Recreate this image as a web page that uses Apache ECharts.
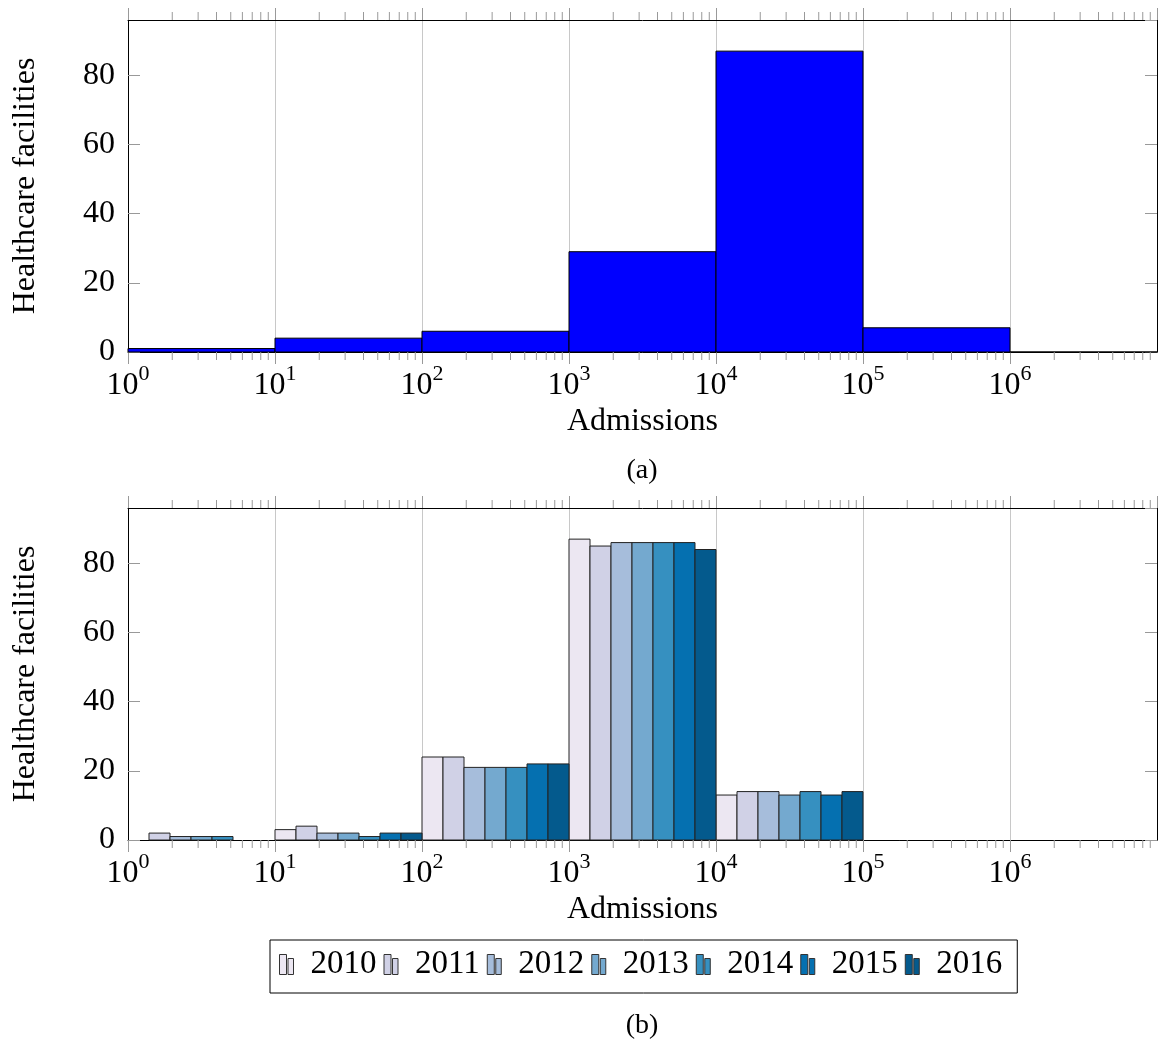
<!DOCTYPE html>
<html>
<head>
<meta charset="utf-8">
<script src="https://cdn.jsdelivr.net/npm/echarts@6/dist/echarts.min.js"></script>
<style>
html,body{margin:0;padding:0;background:#fff;}
#chart{width:1160px;height:1043px;}
</style>
</head>
<body>
<div id="chart"></div>
<script>
// ---------- data ----------
const binEdges = [1, 10, 100, 1000, 10000, 100000, 1000000, 10000000];
const topCounts = [1, 4, 6, 29, 87, 7, 0];
const years = ['2010', '2011', '2012', '2013', '2014', '2015', '2016'];
const counts2010 = [0, 3, 24, 87, 13, 0, 0];
const counts2011 = [2, 4, 24, 85, 14, 0, 0];
const counts2012 = [1, 2, 21, 86, 14, 0, 0];
const counts2013 = [1, 2, 21, 86, 13, 0, 0];
const counts2014 = [1, 1, 21, 86, 14, 0, 0];
const counts2015 = [0, 2, 22, 86, 13, 0, 0];
const counts2016 = [0, 2, 22, 84, 14, 0, 0];
const yearCounts = [counts2010, counts2011, counts2012, counts2013, counts2014, counts2015, counts2016];
const minorMultipliers = [2, 3, 4, 5, 6, 7, 8, 9];
const yTicks = [0, 20, 40, 60, 80];

// ---------- styles ----------
const FONT = "'Liberation Serif', 'Times New Roman', serif";
const yearColors = ['#ece7f2', '#d0d1e6', '#a6bddb', '#74a9cf', '#3690c0', '#0570b0', '#045a8d'];
const X_MIN = 1, X_MAX = 1e7, Y_MAX = 96;
const TICK_COLOR = '#999';

const minorTickData = [];
for (let d = 0; d < binEdges.length - 1; d++) {
  minorMultipliers.forEach(m => minorTickData.push([m * binEdges[d], 0]));
}

function xLabel(v) {
  const n = Math.round(Math.log10(v));
  return '{b|10}{s|' + n + '}';
}

function makeGrid(top) {
  return { left: 128, width: 1029, top: top, height: 332, containLabel: false, outerBoundsMode: 'none' };
}

function bottomX(gridIndex) {
  return {
    type: 'log', logBase: 10, gridIndex: gridIndex, position: 'bottom',
    min: X_MIN, max: X_MAX, interval: 1, splitNumber: 7,
    name: 'Admissions', nameLocation: 'middle', nameGap: 54, nameMoveOverlap: false,
    nameTextStyle: { fontFamily: FONT, fontSize: 32, color: '#000' },
    axisLine: { show: true, onZero: false, lineStyle: { color: '#000', width: 1 } },
    axisTick: { show: true, inside: false, length: 12, lineStyle: { color: TICK_COLOR } },
    minorTick: { show: false },
    splitLine: { show: true, lineStyle: { color: '#c8c8c8', width: 1 } },
    axisLabel: {
      show: true, margin: 11, showMaxLabel: false, showMinLabel: true,
      formatter: xLabel,
      rich: {
        b: { fontFamily: FONT, fontSize: 32, color: '#000', lineHeight: 46 },
        s: { fontFamily: FONT, fontSize: 22, color: '#000', lineHeight: 22, verticalAlign: 'top' }
      }
    }
  };
}
function topX(gridIndex) {
  return {
    type: 'log', logBase: 10, gridIndex: gridIndex, position: 'top',
    min: X_MIN, max: X_MAX, interval: 1, splitNumber: 7,
    axisLine: { show: true, onZero: false, lineStyle: { color: '#000', width: 1 } },
    axisTick: { show: true, inside: false, length: 12, lineStyle: { color: TICK_COLOR } },
    splitLine: { show: false },
    axisLabel: { show: false }
  };
}
function leftY(gridIndex) {
  return {
    type: 'value', gridIndex: gridIndex, position: 'left',
    min: 0, max: Y_MAX, interval: 20,
    name: 'Healthcare facilities', nameLocation: 'middle', nameRotate: 90, nameGap: 86, nameMoveOverlap: false,
    nameTextStyle: { fontFamily: FONT, fontSize: 32, color: '#000' },
    axisLine: { show: true, onZero: false, lineStyle: { color: '#000', width: 1 } },
    axisTick: { show: true, inside: true, length: 12, lineStyle: { color: TICK_COLOR } },
    splitLine: { show: false },
    axisLabel: {
      show: true, margin: 13, showMaxLabel: false,
      fontFamily: FONT, fontSize: 32, color: '#000',
      formatter: v => (yTicks.indexOf(v) >= 0 ? String(v) : '')
    }
  };
}
function rightY(gridIndex) {
  return {
    type: 'value', gridIndex: gridIndex, position: 'right',
    min: 0, max: Y_MAX, interval: 20,
    axisLine: { show: true, onZero: false, lineStyle: { color: '#000', width: 1 } },
    axisTick: { show: true, inside: true, length: 12, lineStyle: { color: TICK_COLOR } },
    splitLine: { show: false },
    axisLabel: { show: false }
  };
}

function minorTickSeries(xi, yi) {
  return {
    type: 'custom', xAxisIndex: xi, yAxisIndex: yi, silent: true, clip: false, z: 5,
    data: minorTickData, encode: { x: 0, y: 1 },
    renderItem: function (params, api) {
      const b = api.coord([api.value(0), 0]);
      const t = api.coord([api.value(0), Y_MAX]);
      const st = { stroke: TICK_COLOR, lineWidth: 1 };
      return {
        type: 'group', children: [
          { type: 'line', shape: { x1: b[0], y1: b[1], x2: b[0], y2: b[1] + 8 }, style: st },
          { type: 'line', shape: { x1: t[0], y1: t[1], x2: t[0], y2: t[1] - 8 }, style: st }
        ]
      };
    }
  };
}

const topData = topCounts.map((c, i) => [binEdges[i], binEdges[i + 1], c]);

const series = [
  {
    name: 'all', type: 'custom', xAxisIndex: 0, yAxisIndex: 0, z: 3,
    data: topData, encode: { x: [0, 1], y: 2 },
    renderItem: function (params, api) {
      const p0 = api.coord([api.value(0), 0]);
      const p1 = api.coord([api.value(1), api.value(2)]);
      return {
        type: 'rect',
        shape: { x: p0[0], y: p1[1], width: p1[0] - p0[0], height: p0[1] - p1[1] },
        style: { fill: '#0000ff', stroke: '#000', lineWidth: 1 }
      };
    }
  },
  minorTickSeries(0, 0),
  minorTickSeries(2, 2)
];

years.forEach((yr, k) => {
  const vals = yearCounts[k];
  series.push({
    name: yr, type: 'custom', xAxisIndex: 2, yAxisIndex: 2, z: 3,
    itemStyle: { color: yearColors[k] },
    data: vals.map((v, i) => [binEdges[i], binEdges[i + 1], v]),
    encode: { x: [0, 1], y: 2 },
    renderItem: function (params, api) {
      const v = api.value(2);
      if (!v) return null;
      const p0 = api.coord([api.value(0), 0]);
      const p1 = api.coord([api.value(1), v]);
      const w = (p1[0] - p0[0]) / years.length;
      return {
        type: 'rect',
        shape: { x: p0[0] + k * w, y: p1[1], width: w, height: p0[1] - p1[1] },
        style: { fill: yearColors[k], stroke: '#222', lineWidth: 1 }
      };
    }
  });
});

const chart = echarts.init(document.getElementById('chart'), null, { renderer: 'canvas' });
chart.setOption({
  animation: false,
  backgroundColor: '#fff',
  grid: [makeGrid(20), makeGrid(508)],
  xAxis: [bottomX(0), topX(0), bottomX(1), topX(1)],
  yAxis: [leftY(0), rightY(0), leftY(1), rightY(1)],
  legend: {
    data: years, left: 270, top: 940, orient: 'horizontal',
    icon: 'path://M0,0H7V20H0Z M8.5,4H14V20H8.5Z',
    itemWidth: 14, itemHeight: 20, itemGap: 7,
    padding: [8, 15, 12, 9],
    borderColor: '#000', borderWidth: 1, borderRadius: 0,
    selectedMode: false,
    itemStyle: { borderColor: '#333', borderWidth: 1 },
    textStyle: { fontFamily: FONT, fontSize: 33, color: '#000', padding: [0, 0, 0, 12], lineHeight: 30 }
  },
  graphic: [
    { type: 'text', x: 642, y: 471, style: { text: '(a)', fontFamily: FONT, fontSize: 28, fill: '#000', align: 'center', verticalAlign: 'middle' } },
    { type: 'text', x: 642, y: 1026, style: { text: '(b)', fontFamily: FONT, fontSize: 28, fill: '#000', align: 'center', verticalAlign: 'middle' } }
  ],
  series: series
});
</script>
</body>
</html>
